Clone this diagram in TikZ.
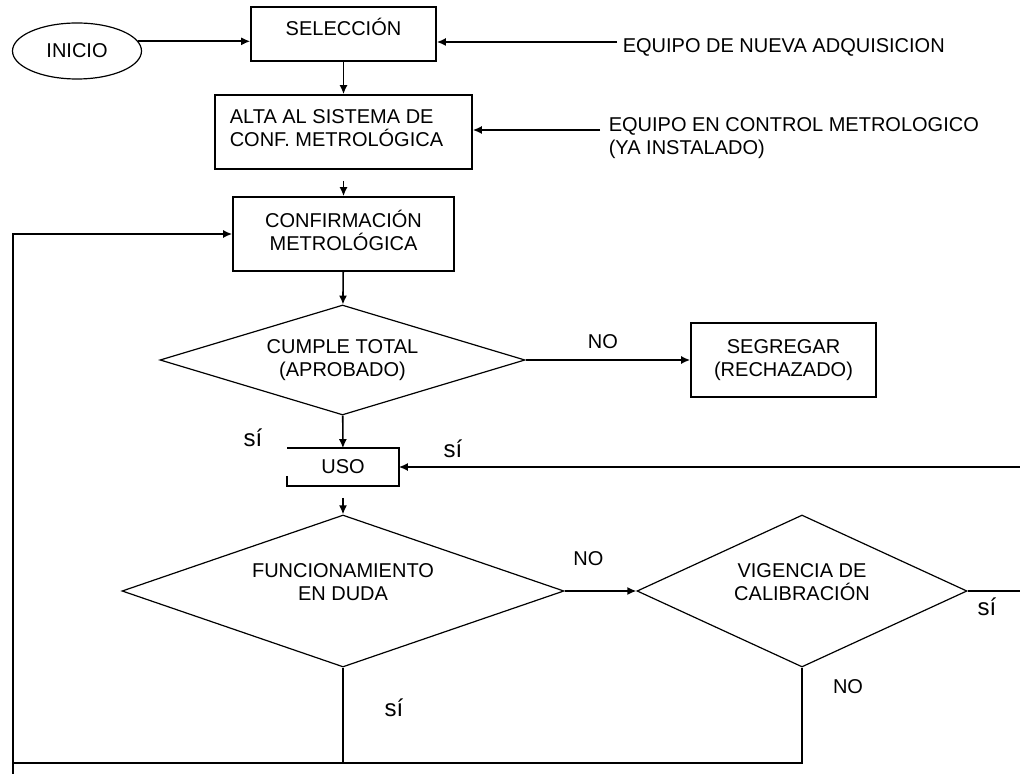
\documentclass[tikz,border=0pt]{standalone}
\usepackage{fontspec}
\setmainfont{Liberation Sans}
\usetikzlibrary{shapes.geometric,arrows.meta}

\begin{document}
\begin{tikzpicture}[x=.5pt,y=-.5pt,>={Latex[length=4.5pt,width=4pt]},line width=.8pt,
    font=\fontsize{10}{11.5}\selectfont,
    box/.style={draw,rectangle,inner sep=0pt},
    rombo/.style={draw,diamond,inner sep=0pt,line width=.6pt,align=center},
    lbl/.style={inner sep=0pt},
    si/.style={inner sep=0pt,font=\fontsize{12}{14}\selectfont}]
    \useasboundingbox (0,0) rectangle (1020,774);
    % bloques
    \node[draw,ellipse,line width=.6pt,minimum width=64.5pt,minimum height=28pt,inner sep=0pt] (inicio) at (77,51) {INICIO};
    \node[box,minimum width=92.5pt,minimum height=27pt] (sel) at (343.5,34) {};
    \node[lbl] (selt) at (343.5,27) {SELECCIÓN};
    \node[box,minimum width=128.5pt,minimum height=37pt] (alta) at (343.5,132) {};
    \node[lbl,align=left,anchor=west] (altat) at (229,128) {ALTA AL SISTEMA DE\\CONF. METROLÓGICA};
    \node[box,minimum width=110.5pt,minimum height=37pt] (conf) at (343.5,234) {};
    \node[lbl,align=center] (conft) at (343.5,230) {CONFIRMACIÓN\\METROLÓGICA};
    \node[rombo,aspect=3.3,minimum width=182.5pt,minimum height=55pt] (cumple) at (342.5,360) {CUMPLE TOTAL\\(APROBADO)};
    \node[box,minimum width=92.5pt,minimum height=37pt,align=center] (seg) at (783.5,360) {SEGREGAR\\(RECHAZADO)};
    \node[minimum width=55pt,minimum height=18pt,inner sep=0pt] (uso) at (343,467) {USO};
    \node[rombo,minimum width=221pt,minimum height=76pt] (func) at (343,591) {};
    \node[lbl,align=center] (funct) at (343,582) {FUNCIONAMIENTO\\EN DUDA};
    \node[rombo,minimum width=165pt,minimum height=76pt] (vig) at (802,591) {};
    \node[lbl,align=center] (vigt) at (802,582) {VIGENCIA DE\\CALIBRACIÓN};
    \draw ([yshift=5pt]uso.south west) -- (uso.south west) -- (uso.south east) -- (uso.north east) -- (uso.north west);
    % entradas
    \coordinate (nueva) at (617,42);
    \coordinate (control) at (600,130);
    \node[lbl,anchor=west] (nuevat) at (622,47) {EQUIPO DE NUEVA ADQUISICION};
    \node[lbl,anchor=west,align=left] (controlt) at (608,138) {EQUIPO EN CONTROL METROLOGICO\\(YA INSTALADO)};
    % flechas
    \draw[->] (inicio.9) -- (inicio.9 -| sel.west);
    \draw[->] (nueva) -- (nueva -| sel.east);
    \draw[->] (sel) -- (alta);
    \draw[->] (control) -- (control -| alta.east);
    \draw[->,shorten <=5.5pt] (alta) -- (conf);
    \draw[->] (conf) -- (cumple);
    \draw[->] (cumple) -- node[lbl,pos=.47,above=5.5pt] (no1) {NO} (seg);
    \draw[->] (cumple) -- (uso);
    \draw[->,shorten <=6pt] (uso) -- (func);
    \draw[->] (func) -- node[lbl,pos=.33,above=12.5pt] (no2) {NO} (vig);
    % retornos
    \coordinate (esq) at (13,763);
    \coordinate (base) at (13,780);
    \coordinate (der) at (1024,591);
    \draw (func.south) -- (func.south |- esq);
    \draw (vig.south) |- (esq);
    \draw[->] (base) |- (conf.west);
    \draw[->] (vig.east) -- (der) |- (uso.east);
    \path
        (253,438) node[si] (si1) {sí}
        (453,449) node[si] (si2) {sí}
        (987,607) node[si] (si3) {sí}
        (394,708) node[si] (si4) {sí}
        (848,687) node[lbl] (no3) {NO}
    ;
\end{tikzpicture}
\end{document}
